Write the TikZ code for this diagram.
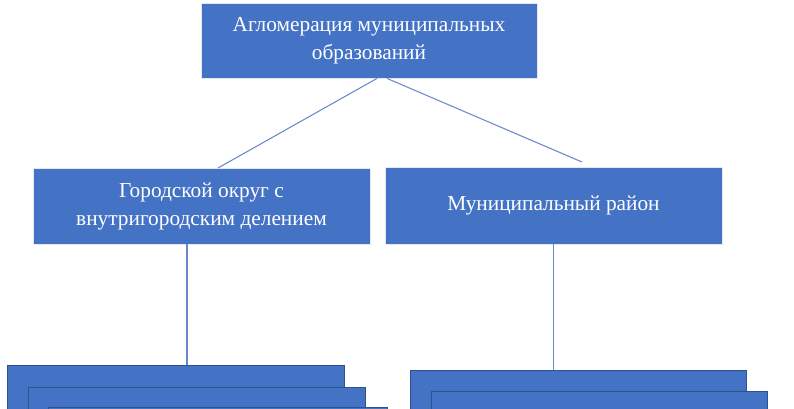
\documentclass[tikz,border=0pt]{standalone}
\usepackage{fontspec}
\setmainfont{Liberation Serif}
\definecolor{boxblue}{HTML}{4472C4}
\definecolor{edgeblue}{HTML}{2F528F}
\definecolor{lineblue}{HTML}{6A89CC}
\tikzset{
  box/.style={draw=white!85!boxblue, line width=0.6pt, fill=boxblue, text=white, align=center, inner sep=0pt,
    font=\fontsize{16}{21}\selectfont},
  stackbox/.style={draw=edgeblue, line width=0.7pt, fill=boxblue, anchor=north west, inner sep=0pt,
    minimum height=60*0.75pt},
  link/.style={draw=lineblue, line width=0.8pt},
}
\begin{document}
\begin{tikzpicture}[x=0.75pt,y=-0.75pt]
\useasboundingbox (0,0) rectangle (794,408);
\begin{scope}
\clip (0,0) rectangle (794,408);
% top box
\node[box, minimum width=336*0.75pt, minimum height=75*0.75pt] (top) at (369,40.5) {Агломерация муниципальных\\образований};
% middle boxes
\node[box, minimum width=337*0.75pt, minimum height=76*0.75pt] (city) at (201.5,206) {Городской округ с\\внутригородским делением};
\node[box, minimum width=337*0.75pt, minimum height=77*0.75pt] (dist) at (553.5,205.5) {Муниципальный район};
% bottom stacks (left)
\node[stackbox, minimum width=337*0.75pt] (l1) at (7,365) {};
\node[stackbox, minimum width=337*0.75pt] (l2) at (28,387) {};
\node[stackbox, minimum width=339*0.75pt] (l3) at (48,407) {};
% bottom stacks (right)
\node[stackbox, minimum width=336*0.75pt] (r1) at (410,370) {};
\node[stackbox, minimum width=336*0.75pt] (r2) at (431,391) {};
\end{scope}
% connectors
\coordinate (t1) at ([xshift=8*0.75pt]top.south);
\coordinate (t2) at ([xshift=18*0.75pt]top.south);
\coordinate (cEnd) at (218,168);
\coordinate (dEnd) at (582,162);
\draw[link] (t1) -- (cEnd);
\draw[link] (t2) -- (dEnd);
\coordinate (cs) at ([xshift=-14.5*0.75pt]city.south);
\coordinate (ds) at (dist.south);
\draw[link] (cs) -- (cs |- l1.north);
\draw[link] (ds) -- (ds |- r1.north);
\end{tikzpicture}
\end{document}
